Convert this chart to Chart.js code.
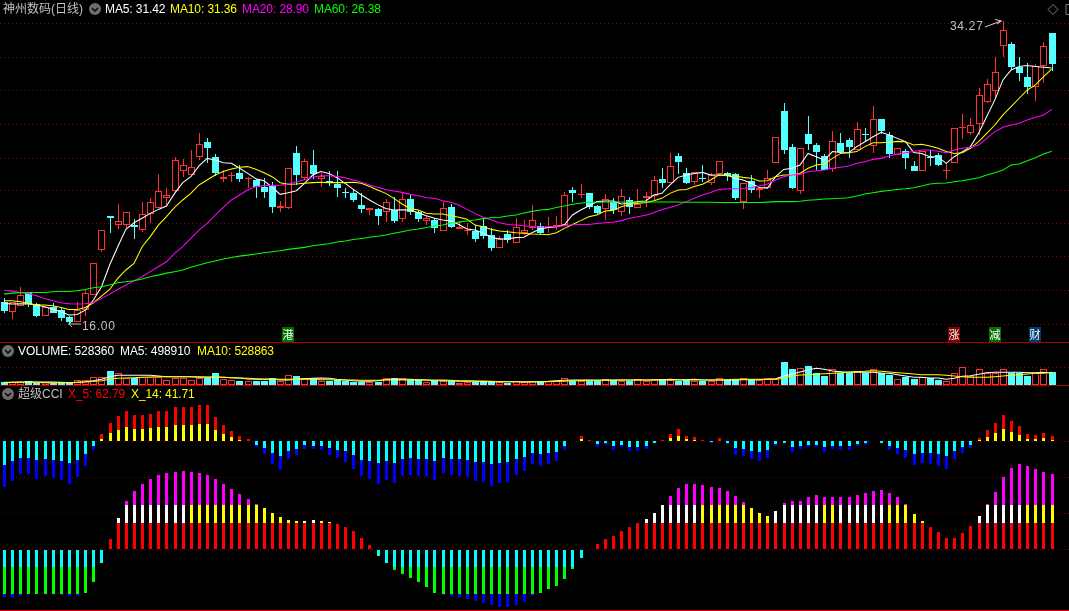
<!DOCTYPE html>
<html><head><meta charset="utf-8">
<style>
html,body{margin:0;padding:0;background:#000;overflow:hidden;width:1069px;height:611px}
#wrap{position:relative;width:1069px;height:611px;overflow:hidden;background:#000}
canvas{position:absolute;left:0;display:block}
.t{position:absolute;white-space:nowrap;font:12px "Liberation Sans","Noto Sans CJK SC",sans-serif;line-height:14px;letter-spacing:-.1px}
.rule{position:absolute;left:0;width:1069px;height:1px}
.tag{position:absolute;width:12px;height:15px;top:327px;color:#fff;font:11px/15px "Noto Sans CJK SC",sans-serif;text-align:center}
svg{position:absolute;left:0;top:0;pointer-events:none}
</style></head><body><div id="wrap">
<canvas id="cPrice" width="1072" height="342" style="top:0"></canvas>
<canvas id="cVol" width="1072" height="42" style="top:343px"></canvas>
<canvas id="cCci" width="1072" height="224" style="top:386px"></canvas>
<div class="rule" style="top:342px;background:#a80000"></div>
<div class="rule" style="top:385px;background:#a80000"></div>
<div class="rule" style="top:610px;background:#e80000"></div>

<div class="t" style="left:3px;top:2px;color:#c0c0c0;letter-spacing:0">神州数码(日线)</div>
<div class="t" style="left:105px;top:2px;color:#fff">MA5: 31.42</div>
<div class="t" style="left:170px;top:2px;color:#ff0">MA10: 31.36</div>
<div class="t" style="left:242px;top:2px;color:#f0f">MA20: 28.90</div>
<div class="t" style="left:314px;top:2px;color:#0f0">MA60: 26.38</div>
<div class="t" style="left:18px;top:344px;color:#fff">VOLUME: 528360</div>
<div class="t" style="left:120px;top:344px;color:#fff">MA5: 498910</div>
<div class="t" style="left:197px;top:344px;color:#ff0">MA10: 528863</div>
<div class="t" style="left:18px;top:387px;color:#c0c0c0;letter-spacing:0">超级CCI</div>
<div class="t" style="left:68px;top:387px;color:#f00">X_5: 62.79</div>
<div class="t" style="left:131px;top:387px;color:#ff0">X_14: 41.71</div>
<div class="t" style="left:950px;top:19px;color:#c0c0c0;letter-spacing:.7px">34.27</div>
<div class="t" style="left:82px;top:319px;color:#c0c0c0;letter-spacing:.7px">16.00</div>
<div class="tag" style="left:282px;background:#007000">港</div>
<div class="tag" style="left:948px;background:#800000">涨</div>
<div class="tag" style="left:989px;background:#007000">减</div>
<div class="tag" style="left:1029px;background:#003a70">财</div>

<svg width="1069" height="611" fill="none">
 <g id="icons"></g>
 <path d="M985 27 L1001 21 M995 19.5 L1001.5 21 L997 24" stroke="#d0d0d0" stroke-width="1"/>
 <path d="M68 324 L81 324 M72 321 L69 324 L72 327" stroke="#c0c0c0" stroke-width="1"/>
 <path d="M1053 4.5 L1058 9.5 L1053 14.5 L1048 9.5 Z" stroke="#808080" stroke-width="1"/>
 <path d="M1069 4.5 L1066 4.5 L1066 14.5 L1069 14.5" stroke="#808080" stroke-width="1"/>
</svg>
</div>
<script src="https://cdn.jsdelivr.net/npm/chart.js@4/dist/chart.umd.min.js"></script>
<script>
/* ---------- candles ---------- */
const opens=[17.23,16.62,17.04,17.77,17.15,16.42,16.94,16.74,16.34,16.06,16.74,17.69,20.38,22.46,21.93,21.93,21.91,21.63,22.56,22.96,23.57,23.95,25.21,24.96,26.01,26.94,26.05,24.72,24.88,25.06,24.68,24.64,24.22,24.32,22.96,22.96,26.28,24.78,25.55,24.68,24.58,24.42,23.93,23.85,
23.10,22.84,22.88,22.68,22.84,22.30,23.47,22.72,22.18,22.22,21.53,22.98,21.69,21.57,21.55,21.83,21.33,20.54,21.37,20.84,21.41,21.75,21.85,21.75,21.77,21.89,24.01,23.73,23.83,23.04,22.90,23.33,22.72,23.43,22.96,23.53,23.65,24.68,24.48,26.07,25.06,24.54,24.74,24.48,
24.98,25.08,25.00,23.32,24.56,24.03,24.17,25.69,28.82,26.64,23.99,27.43,26.76,26.09,25.28,26.86,27.06,26.48,27.43,26.72,28.33,27.39,26.17,26.40,25.49,25.20,26.05,26.15,25.16,25.65,27.77,27.51,28.01,29.39,30.05,32.74,32.88,31.51,30.88,30.29,31.53,33.55];
const closes=[16.70,17.23,17.65,17.15,16.42,16.92,16.60,16.26,16.02,16.74,17.77,19.59,21.59,22.36,22.14,22.68,21.81,22.56,23.29,23.95,23.71,25.83,25.53,25.41,26.80,26.60,25.06,24.80,24.96,24.70,24.78,24.24,23.91,23.00,23.04,25.35,24.96,25.77,25.00,24.88,24.50,24.16,23.87,23.45,
22.90,22.96,22.46,23.29,22.18,23.47,22.72,22.28,22.32,21.73,22.92,21.79,21.77,21.61,21.06,21.27,20.52,21.13,20.98,21.77,21.59,22.20,21.43,21.81,21.91,23.71,23.87,23.79,23.02,22.66,23.51,22.82,23.65,22.98,23.19,23.65,24.62,24.46,25.47,25.75,24.46,25.10,24.68,24.92,
25.77,24.88,23.55,24.44,24.03,24.15,24.74,27.22,26.46,24.15,26.56,26.80,26.33,25.24,26.98,26.33,26.62,27.71,27.35,28.31,27.63,26.21,26.56,25.97,25.18,26.42,25.99,25.55,25.22,27.77,27.83,27.99,29.77,30.44,31.16,33.71,31.49,31.14,30.27,31.53,32.74,31.69];
const highs=[17.47,17.27,18.14,17.83,17.21,16.92,17.17,16.86,16.40,17.27,17.97,19.59,21.59,22.46,23.19,22.68,22.28,23.31,23.53,25.00,24.16,26.01,25.91,26.46,27.49,27.19,26.20,25.23,25.10,25.57,24.84,24.70,24.76,24.50,23.37,25.35,26.70,25.89,26.46,25.04,25.19,25.17,24.16,24.11,
23.83,22.96,22.94,23.47,23.59,23.89,23.73,22.82,22.44,22.32,23.37,23.17,22.18,22.05,21.91,22.26,21.75,21.25,21.61,22.34,22.22,23.13,22.01,22.38,22.48,23.91,24.22,24.38,23.83,23.13,23.77,23.53,24.07,23.59,24.07,23.91,24.86,25.37,26.28,26.28,25.37,25.10,25.53,25.08,
25.77,25.14,25.04,24.48,24.94,24.17,25.24,27.22,29.30,26.80,26.56,28.52,26.88,26.21,27.61,27.49,27.16,28.15,27.79,29.12,28.33,27.53,26.56,26.50,25.79,26.42,26.48,26.25,25.65,27.77,28.62,28.40,30.19,30.74,32.09,34.27,33.00,32.09,31.71,31.69,32.98,33.55];
const lows=[16.60,16.22,17.02,16.96,16.36,16.42,16.56,16.12,16.00,16.06,16.42,17.69,20.30,21.43,21.65,21.71,21.06,21.51,22.03,22.96,23.06,23.91,24.82,24.92,25.85,25.67,24.88,24.52,24.52,24.54,24.16,23.55,23.53,22.64,22.72,22.90,24.34,24.64,24.70,24.24,24.28,23.61,23.53,23.31,
22.66,22.52,21.91,22.09,22.05,22.12,22.52,22.12,21.91,21.45,21.53,21.73,21.69,21.33,20.90,21.06,20.36,20.50,20.84,20.84,21.33,21.61,21.37,21.41,21.61,21.89,23.29,23.55,22.86,22.58,22.22,22.58,22.48,22.58,22.96,23.02,23.39,24.18,24.48,25.00,24.38,24.32,24.54,24.34,
24.90,24.58,23.43,22.88,23.87,23.57,24.13,25.69,26.21,24.07,23.79,26.46,25.24,25.24,25.14,26.25,25.95,26.48,27.02,26.29,27.43,25.95,26.17,25.30,25.16,25.20,25.49,25.49,24.72,25.65,27.14,27.39,27.37,29.32,29.53,32.07,31.34,30.64,29.85,29.43,30.54,31.24];
/* ---------- moving averages ---------- */
const ma5=[17.17,17.13,17.15,17.13,17.07,16.96,16.82,16.66,16.46,16.50,16.76,17.37,18.18,19.49,20.60,21.65,22.05,22.32,22.62,22.86,23.06,23.83,24.48,24.84,25.49,25.95,25.85,25.69,25.65,25.35,25.04,24.72,24.60,24.20,23.77,23.87,23.99,24.44,24.94,25.15,25.04,24.78,24.44,24.07,
23.73,23.43,23.15,22.92,22.82,22.84,22.82,22.66,22.48,22.32,22.22,22.16,21.95,21.67,21.61,21.41,21.17,21.06,21.08,21.15,21.17,21.45,21.67,21.77,21.81,21.93,22.52,22.82,23.06,23.33,23.37,23.37,23.19,23.23,23.33,23.37,23.73,23.83,24.34,24.80,24.94,25.04,25.10,24.94,
24.94,24.94,24.74,24.64,24.44,24.19,24.15,24.84,25.28,25.35,25.55,26.25,26.05,25.85,26.36,26.31,26.29,26.66,26.96,27.26,27.53,27.37,27.16,26.96,26.31,26.25,26.05,26.05,25.65,26.05,26.36,26.66,27.47,28.48,29.49,30.70,31.30,31.51,31.57,31.51,31.47,31.42];
const ma10=[17.33,17.33,17.27,17.17,17.07,17.07,17.02,16.92,16.80,16.80,16.92,17.21,17.61,18.01,18.68,19.19,19.59,20.60,21.21,21.91,22.42,22.98,23.43,23.83,24.34,24.64,24.94,25.15,25.31,25.41,25.45,25.29,25.08,24.84,24.48,24.38,24.40,24.44,24.48,24.50,24.48,24.48,24.48,24.50,
24.44,24.24,24.03,23.83,23.53,23.19,22.92,22.82,22.62,22.58,22.58,22.48,22.38,22.26,21.91,21.81,21.65,21.55,21.51,21.45,21.41,21.37,21.35,21.33,21.45,21.71,21.95,22.18,22.42,22.52,22.76,22.80,23.02,23.15,23.23,23.27,23.39,23.53,23.83,24.03,24.07,24.24,24.38,24.64,
24.94,24.90,24.88,24.80,24.74,24.58,24.60,24.84,24.94,24.94,25.04,25.35,25.55,25.61,25.95,26.25,26.29,26.36,26.66,26.90,26.90,26.92,26.98,26.96,26.76,26.80,26.70,26.56,26.36,26.25,26.29,26.56,26.96,27.47,27.97,28.58,29.08,29.59,30.09,30.40,30.90,31.36];
const ma20=[17.95,17.91,17.83,17.77,17.63,17.47,17.33,17.21,17.15,17.13,17.15,17.21,17.47,17.73,18.01,18.28,18.54,18.78,19.09,19.39,19.69,20.20,20.60,21.10,21.61,22.01,22.52,22.98,23.43,23.73,24.03,24.24,24.30,24.30,24.32,24.40,24.54,24.66,24.80,24.90,24.90,24.86,24.78,24.64,
24.50,24.34,24.20,24.07,23.97,23.89,23.77,23.69,23.57,23.53,23.39,23.29,23.13,22.86,22.62,22.38,22.22,22.05,21.95,21.91,21.87,21.83,21.79,21.81,21.83,21.87,21.93,21.95,21.95,22.01,22.05,22.08,22.18,22.32,22.42,22.50,22.66,22.86,22.98,23.13,23.33,23.53,23.73,23.89,
24.07,24.09,24.11,24.13,24.17,24.27,24.40,24.64,24.84,24.94,24.98,25.14,25.20,25.24,25.35,25.41,25.49,25.65,25.75,25.89,25.95,26.09,26.21,26.29,26.36,26.46,26.46,26.38,26.29,26.46,26.56,26.62,26.76,27.16,27.57,27.83,27.97,28.07,28.27,28.44,28.58,28.90];
const ma60=[17.73,17.79,17.81,17.83,17.83,17.83,17.87,17.89,17.89,17.93,18.01,18.12,18.18,18.28,18.42,18.48,18.54,18.64,18.78,18.88,19.00,19.09,19.19,19.35,19.49,19.63,19.73,19.85,19.95,20.03,20.09,20.16,20.24,20.30,20.36,20.44,20.50,20.56,20.66,20.72,20.78,20.88,20.94,21.04,
21.10,21.17,21.23,21.31,21.41,21.51,21.61,21.67,21.77,21.85,21.91,22.03,22.09,22.16,22.22,22.30,22.36,22.38,22.46,22.52,22.64,22.74,22.82,22.86,22.98,23.06,23.17,23.23,23.29,23.29,23.31,23.31,23.31,23.31,23.31,23.31,23.31,23.31,23.31,23.31,23.29,23.29,23.29,23.29,
23.28,23.28,23.28,23.28,23.28,23.28,23.30,23.33,23.33,23.33,23.35,23.41,23.45,23.49,23.51,23.53,23.57,23.67,23.79,23.87,23.95,24.01,24.07,24.11,24.17,24.27,24.40,24.44,24.46,24.54,24.60,24.68,24.78,24.94,25.08,25.24,25.55,25.61,25.81,25.99,26.21,26.38];
const priceTicks=[34.09,32.03,30.03,28.03,25.97,23.98,21.98,19.98,17.92,15.92];
/* ---------- volume (thousands) ---------- */
const volume=[139,111,111,181,97,125,97,125,83,195,195,320,320,584,487,292,278,348,348,348,209,278,278,209,278,278,487,250,209,167,167,181,181,278,181,417,375,278,278,167,153,209,181,139,
111,125,139,292,292,278,222,209,139,181,181,181,97,139,125,153,167,111,97,153,111,153,153,153,181,292,181,181,181,181,236,209,181,181,236,181,236,236,209,181,209,181,181,181,
278,209,209,278,209,209,278,236,945,653,695,792,487,375,653,487,514,584,487,653,514,417,236,348,250,348,278,209,181,487,737,375,653,487,487,653,487,487,375,514,653,528.36];
const volMa5=[97,111,125,125,125,125,125,111,97,111,139,181,236,348,403,403,403,403,403,375,348,348,348,348,320,320,320,320,306,292,250,236,236,236,209,209,236,264,278,292,278,236,209,181,
153,153,181,222,250,236,236,222,209,181,181,181,153,153,153,139,139,139,139,139,125,125,139,153,181,195,209,209,209,195,209,209,209,209,209,209,209,222,236,222,222,236,209,209,
209,209,209,222,222,222,236,264,375,445,542,626,695,653,584,556,528,542,528,528,500,487,431,375,320,320,292,292,236,278,361,389,445,514,528,528,528,528,514,514,528,498.91];
const volMa10=[111,111,111,111,111,97,97,97,97,111,125,153,181,236,278,292,306,320,334,348,348,348,348,348,348,334,334,320,306,292,278,264,250,250,236,236,236,236,236,222,222,209,209,209,
195,195,195,209,209,209,209,209,209,209,209,195,181,181,167,167,153,139,139,139,139,139,139,139,153,153,181,181,195,195,195,195,209,209,209,209,209,209,209,209,209,209,209,209,
209,222,236,236,236,236,236,236,278,375,417,431,445,473,487,514,542,556,570,598,570,542,514,487,459,431,431,431,403,375,348,320,320,320,348,375,403,431,459,487,487,528.86];
const volTicks=[709];
/* ---------- super CCI ---------- */
const cciLong=[-143,-146,-140,-134,-134,-134,-134,-137,-140,-140,-131,-98,-41,31,94,145,175,196,211,223,229,232,235,232,229,223,211,196,181,166,151,136,124,109,97,88,85,85,88,85,82,76,67,55,
34,13,-20,-41,-62,-74,-86,-98,-113,-131,-137,-140,-146,-149,-155,-161,-167,-173,-173,-167,-158,-140,-131,-119,-110,-89,-59,-26,1,16,31,40,55,67,79,91,109,133,160,184,196,196,193,187,
184,175,160,142,124,109,100,115,139,145,145,157,163,157,157,157,157,163,169,175,178,169,157,136,106,85,67,52,34,34,49,70,100,136,172,217,244,256,250,241,232,226];
const cciShort=[-137,-119,-98,-98,-113,-104,-110,-116,-128,-107,-74,-26,22,55,76,91,79,79,82,91,91,103,103,103,109,109,73,49,31,16,7,-17,-38,-68,-86,-53,-41,-23,-24,-26,-41,-50,-62,-83,
-104,-113,-128,-116,-125,-104,-101,-104,-107,-116,-95,-101,-104,-107,-119,-122,-134,-125,-122,-101,-89,-68,-74,-68,-59,-26,2,16,4,-17,-11,-26,-17,-29,-29,-23,-5,4,22,37,16,13,4,-5,
10,-7,-41,-44,-53,-59,-50,-14,-5,-32,-23,-17,-17,-32,-23,-26,-26,-14,-11,1,-5,-26,-38,-50,-71,-65,-68,-74,-83,-53,-35,-20,10,34,55,79,61,46,22,19,25,16];
const cciShortInner=[-71,-59,-50,-50,-56,-53,-56,-59,-65,-56,-38,-14,7,25,34,43,37,37,40,43,43,49,49,49,52,52,34,22,13,4,1,-11,-20,-35,-44,-29,-23,-11,-14,-13,-20,-26,-29,-41,
-56,-59,-65,-59,-65,-53,-49,-53,-53,-59,-49,-53,-53,-56,-62,-62,-68,-65,-62,-53,-47,-35,-38,-35,-32,-14,0,7,1,-8,-6,-14,-12,-17,-17,-14,-5,1,10,16,7,4,1,-2,
1,-4,-20,-23,-29,-32,-26,-8,-5,-17,-14,-11,-11,-17,-14,-14,-14,-8,-6,0,-5,-14,-20,-26,-38,-35,-35,-38,-44,-29,-17,-11,4,13,25,37,28,19,7,7,10,4];
const whiteMidBars=[14,15,16,17,18,19,20,21,22,37,38,79,80,81,82,83,84,85,95,96,97,98,99,100,103,104,105,106,107,108,120,121,122,123,124,125];
const cciBands={posLow:79,posHigh:133,negLow:-53,negHigh:-134,upperBase:324};
const cciTicks=[0,108,216,324];

/* ---------- shared ---------- */
const labels=opens.map((_,i)=>String(i)).concat(['','']);
const RED='#ff3232',CYAN='#54ffff',GRID='#860000';
const isUp=i=>closes[i]>=opens[i];
Chart.defaults.devicePixelRatio=1;
const snapBars={id:'snapBars',beforeDatasetsDraw(ch){
  ch.getSortedVisibleDatasetMetas().forEach(m=>{ if(m.type!=='bar')return;
    m.data.forEach(el=>{ el.x=Math.floor(el.x+0.4)+0.5; el.y=Math.round(el.y); el.base=Math.round(el.base); });
  });}};
function yAxis(min,max,ticks,gridColor){return {min,max,position:'left',
  afterBuildTicks:s=>{s.ticks=ticks.map(v=>({value:v}));},
  afterFit:s=>{s.width=0;},
  ticks:{display:false},border:{display:false,dash:[1,3]},
  grid:{color:gridColor||GRID,lineWidth:1,drawTicks:false}};}
function opts(y){return {responsive:false,animation:false,events:[],
  layout:{padding:0},
  plugins:{legend:{display:false},tooltip:{enabled:false}},
  scales:{x:{display:false,offset:true,grid:{display:false}},y}};}
const pad=a=>a.concat([null,null]);
const barBase={grouped:false,barPercentage:1,categoryPercentage:1,inflateAmount:0};
function lineDs(data,color,order){return {type:'line',data:pad(data),borderColor:color,borderWidth:1.05,pointRadius:0,tension:0,fill:false,order};}

/* ---------- price panel ---------- */
new Chart(document.getElementById('cPrice'),{type:'bar',plugins:[snapBars],
 data:{labels,datasets:[
  lineDs(ma60,'#00ff00',0),lineDs(ma20,'#ff00ff',1),lineDs(ma10,'#ffff00',2),lineDs(ma5,'#ffffff',3),
  {...barBase,data:pad(opens.map((o,i)=>[o,closes[i]])),maxBarThickness:7,borderSkipped:false,
   backgroundColor:opens.map((_,i)=>isUp(i)?'#000':CYAN),
   borderColor:opens.map((_,i)=>isUp(i)?RED:CYAN),borderWidth:1,order:10},
  {...barBase,data:pad(opens.map((_,i)=>[lows[i],highs[i]])),maxBarThickness:1,borderWidth:0,
   backgroundColor:opens.map((_,i)=>isUp(i)?RED:CYAN),order:11}
 ]},
 options:opts(yAxis(14.83,35.54,priceTicks))});

/* ---------- volume panel ---------- */
new Chart(document.getElementById('cVol'),{type:'bar',plugins:[snapBars],
 data:{labels,datasets:[
  lineDs(volMa10,'#ffff00',0),lineDs(volMa5,'#ffffff',1),
  {...barBase,data:pad(volume),maxBarThickness:7,borderSkipped:false,
   backgroundColor:volume.map((_,i)=>isUp(i)?'#000':CYAN),
   borderColor:volume.map((_,i)=>isUp(i)?RED:CYAN),borderWidth:1,order:5}
 ]},
 options:opts(yAxis(0,1751,volTicks))});

/* ---------- CCI panel ---------- */
const {posLow,posHigh,negLow,negHigh,upperBase}=cciBands;
const band=(fn)=>pad(cciLong.map(fn));
const segs={
 red:band(v=>v>0?[0,Math.min(v,posLow)]:null),
 midW:band((v,i)=>v>posLow&&whiteMidBars.includes(i)?[posLow,Math.min(v,posHigh)]:null),
 midY:band((v,i)=>v>posLow&&!whiteMidBars.includes(i)?[posLow,Math.min(v,posHigh)]:null),
 mag:band(v=>v>posHigh?[posHigh,v]:null),
 cyan:band(v=>v<0?[0,Math.max(v,negLow)]:null),
 green:band(v=>v<negLow?[negLow,Math.max(v,negHigh)]:null),
 blue:band(v=>v<negHigh?[negHigh,v]:null)
};
const upper=(arr,test)=>pad(arr.map(v=>test(v)?[upperBase,upperBase+v]:null));
function cciDs(data,color,order){return {...barBase,data,maxBarThickness:3,borderWidth:0,backgroundColor:color,order};}
new Chart(document.getElementById('cCci'),{type:'bar',plugins:[snapBars],
 data:{labels,datasets:[
  cciDs(segs.red,'#ff0000',5),cciDs(segs.midW,'#ffffff',5),cciDs(segs.midY,'#ffff00',5),cciDs(segs.mag,'#ff00ff',5),
  cciDs(segs.cyan,'#00ffff',5),cciDs(segs.green,'#00ff00',5),cciDs(segs.blue,'#0000ff',5),
  cciDs(upper(cciShortInner,v=>v>0),'#ffff00',2),cciDs(upper(cciShortInner,v=>v<0),'#00ffff',2),
  cciDs(upper(cciShort,v=>v>0),'#ff0000',3),cciDs(upper(cciShort,v=>v<0),'#0000ff',3)
 ]},
 options:opts(yAxis(-182,490,cciTicks,'#6a0000'))});

/* ---------- panel header icons ---------- */
const iconSpots=[[95,9],[8,351],[8,394]];
document.getElementById('icons').innerHTML=iconSpots.map(([x,y])=>
 `<circle cx="${x}" cy="${y}" r="6" fill="#6e6e6e"/><path d="M${x-3} ${y-1} L${x} ${y+2} L${x+3} ${y-1}" stroke="#000" stroke-width="1.4"/>`).join('');
</script></body></html>
